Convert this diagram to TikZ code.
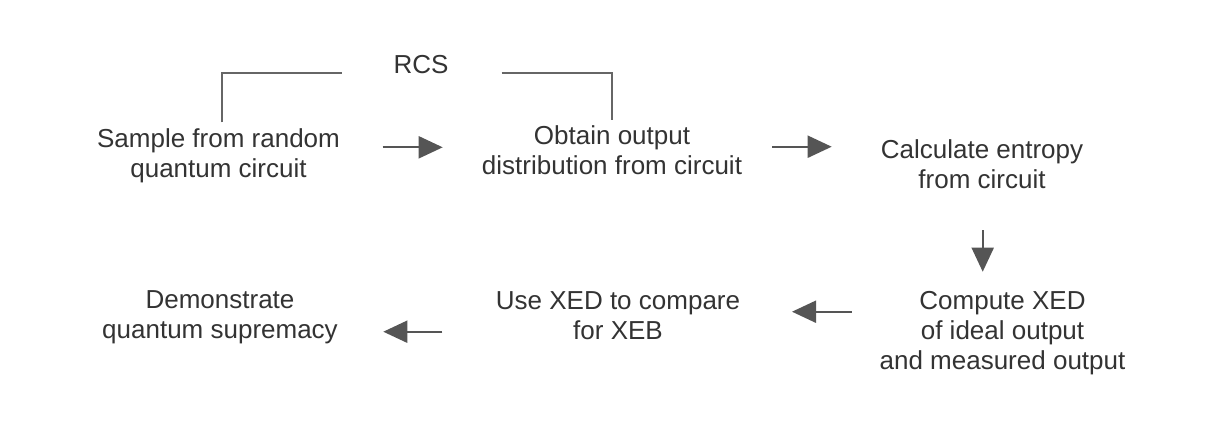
\documentclass[tikz,border=0pt]{standalone}
\usepackage{fontspec}
\setmainfont{Liberation Sans}
\usetikzlibrary{arrows.meta}
\definecolor{txt}{HTML}{333333}
\definecolor{ln}{HTML}{555555}
\definecolor{br}{HTML}{666666}
\begin{document}
\begin{tikzpicture}[x=0.5pt,y=-0.5pt,
  lbl/.style={inner sep=0pt,align=center,text=txt,font=\fontsize{13}{15}\selectfont},
  flow/.style={draw=ln,line width=1pt,-{Triangle[length=12pt,width=11pt]}},
  bracket/.style={draw=br,line width=1pt}]
\useasboundingbox (0,0) rectangle (1218,420);
\fill[white] (0,0) rectangle (1218,420);
\node[lbl] (rcs) at (421,67) {\strut RCS};
\node[lbl] (n1) at (218.5,156) {\strut Sample from random\\\strut quantum circuit};
\node[lbl] (n2) at (612,153) {\strut Obtain output\\\strut distribution from circuit};
\node[lbl] (n3) at (982,167) {\strut Calculate entropy\\\strut from circuit};
\node[lbl] (n4) at (1002.5,333) {\strut Compute XED\\\strut of ideal output\\\strut and measured output};
\node[lbl] (n5) at (618,318) {\strut Use XED to compare\\\strut for XEB};
\node[lbl] (n6) at (220,317) {\strut Demonstrate\\\strut quantum supremacy};
% connector end points
\coordinate (a1s) at (382.7,147.3); \coordinate (a1e) at (442.7,147.3);
\coordinate (a2s) at (772,146.7);   \coordinate (a2e) at (831.7,146.7);
\coordinate (a3s) at (982.7,230);   \coordinate (a3e) at (982.7,271.7);
\coordinate (a4s) at (851.7,311.7); \coordinate (a4e) at (792,311.7);
\coordinate (a5s) at (442.3,331.7); \coordinate (a5e) at (383.3,331.7);
\draw[flow] (a1s) -- (a1e);
\draw[flow] (a2s) -- (a2e);
\draw[flow] (a3s) -- (a3e);
\draw[flow] (a4s) -- (a4e);
\draw[flow] (a5s) -- (a5e);
% RCS bracket
\coordinate (bl1) at (221.7,122.3); \coordinate (bl2) at (341.7,73.3);
\coordinate (br1) at (501.7,73.3);  \coordinate (br2) at (612.3,120);
\draw[bracket] (bl1) |- (bl2);
\draw[bracket] (br1) -| (br2);
\end{tikzpicture}
\end{document}
